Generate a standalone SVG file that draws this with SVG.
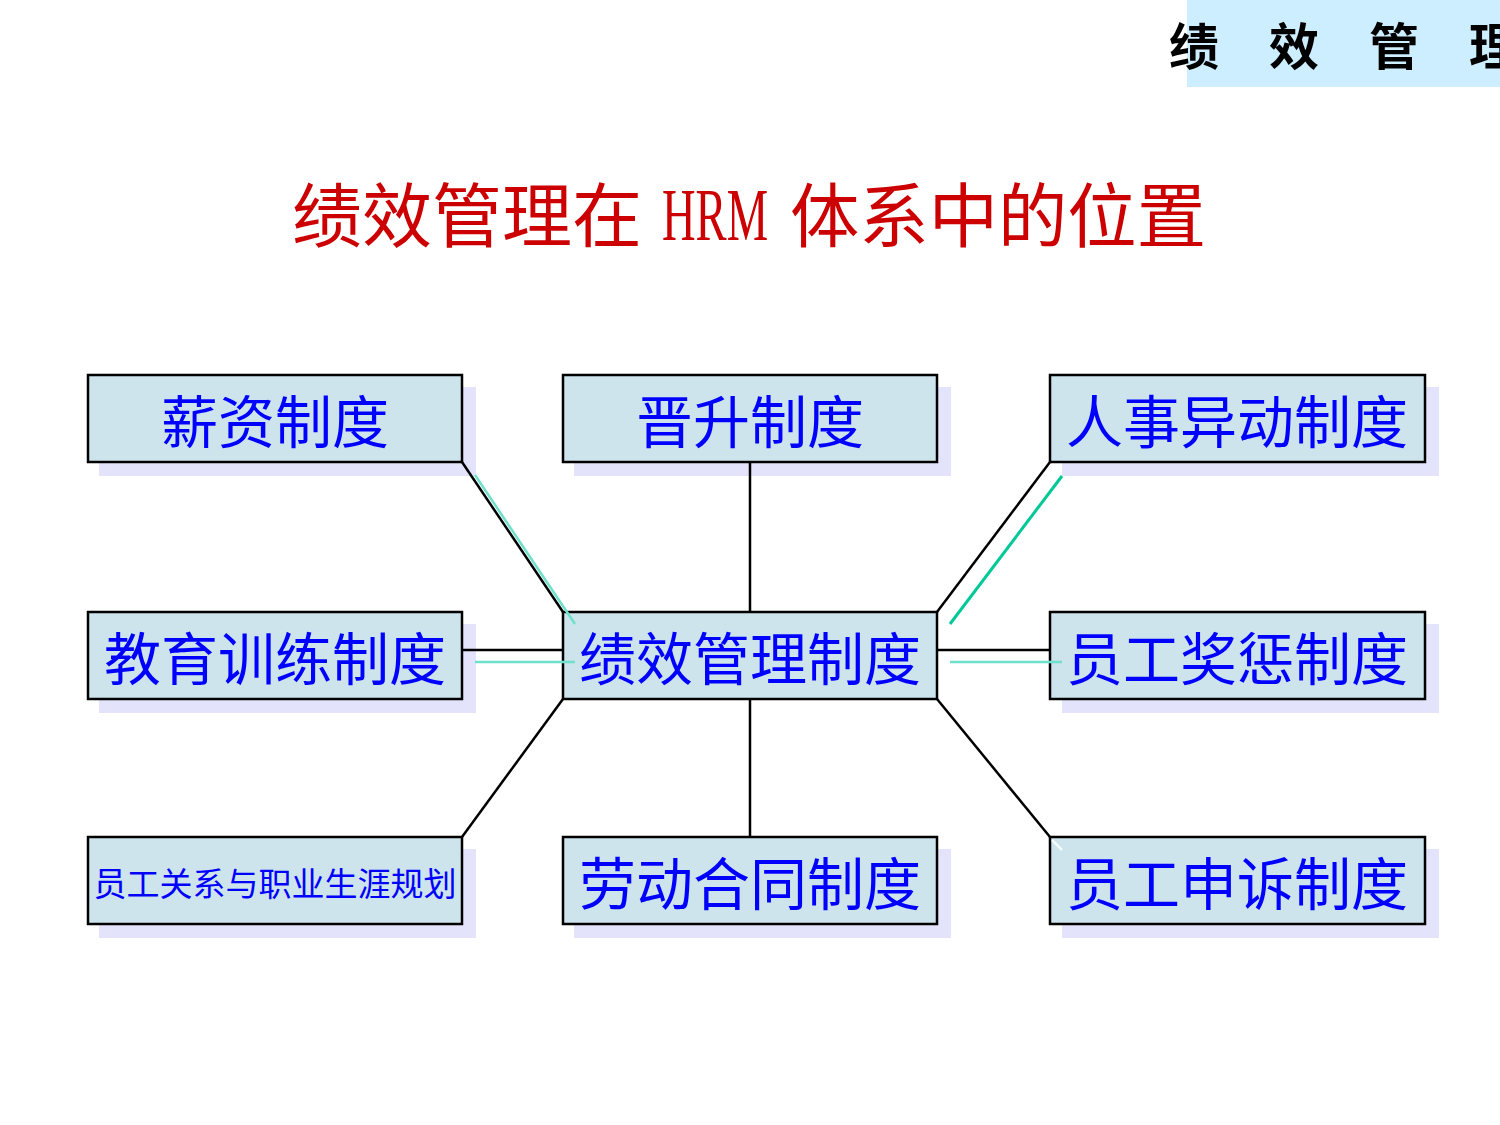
<svg xmlns="http://www.w3.org/2000/svg" width="1500" height="1125" viewBox="0 0 1500 1125">
<style>
.shadow{fill:#e3e3fc;}
.box{fill:#cde4ec;stroke:#000;stroke-width:2.5;}
.lbl{font-family:"Noto Sans CJK SC",sans-serif;font-size:57px;fill:#0000ff;text-anchor:middle;}
.small{font-size:33px;}
.conn{stroke:#000;stroke-width:2.5;fill:none;}
.hl{stroke:#6fe0cc;stroke-width:2.5;fill:none;}
.hl2{stroke:#00c896;stroke-width:3;fill:none;}
.hdr{font-family:"Noto Sans CJK SC",sans-serif;font-size:50px;font-weight:bold;fill:#000;}
.title{font-family:"Noto Sans CJK SC",sans-serif;font-size:70px;fill:#cc0000;}
</style>
<rect width="1500" height="1125" fill="#ffffff"/>
<g id="header">
<rect x="1187" y="0" width="313" height="87" fill="#cdeefe"/>
<text class="hdr" x="1169" y="65">绩</text>
<text class="hdr" x="1269" y="65">效</text>
<text class="hdr" x="1369" y="65">管</text>
<text class="hdr" x="1469" y="65">理</text>
</g>
<g id="title">
<text class="title" x="292" y="242" textLength="350" lengthAdjust="spacingAndGlyphs">绩效管理在</text>
<text x="662" y="240" font-family="Liberation Serif, serif" font-size="74" fill="#cc0000" textLength="106" lengthAdjust="spacingAndGlyphs">HRM</text>
<text class="title" x="790" y="242" textLength="416" lengthAdjust="spacingAndGlyphs">体系中的位置</text>
</g>
<g id="n1">
<rect class="shadow" x="99" y="387" width="377" height="89"/>
<rect class="box" x="88" y="375" width="374" height="87"/>
<text class="lbl" x="275" y="443">薪资制度</text>
</g>
<g id="n2">
<rect class="shadow" x="574" y="387" width="377" height="89"/>
<rect class="box" x="563" y="375" width="374" height="87"/>
<text class="lbl" x="750" y="443">晋升制度</text>
</g>
<g id="n3">
<rect class="shadow" x="1062" y="387" width="377" height="89"/>
<rect class="box" x="1050" y="375" width="375" height="87"/>
<text class="lbl" x="1237" y="443">人事异动制度</text>
</g>
<g id="n4">
<rect class="shadow" x="99" y="624" width="377" height="89"/>
<rect class="box" x="88" y="612" width="374" height="87"/>
<text class="lbl" x="275" y="680">教育训练制度</text>
</g>
<g id="center">
<rect class="box" x="563" y="612" width="374" height="87"/>
<text class="lbl" x="750" y="680">绩效管理制度</text>
</g>
<g id="n5">
<rect class="shadow" x="1062" y="624" width="377" height="89"/>
<rect class="box" x="1050" y="612" width="375" height="87"/>
<text class="lbl" x="1237" y="680">员工奖惩制度</text>
</g>
<g id="n6">
<rect class="shadow" x="99" y="849" width="377" height="89"/>
<rect class="box" x="88" y="837" width="374" height="87"/>
<text class="lbl small" x="275" y="896">员工关系与职业生涯规划</text>
</g>
<g id="n7">
<rect class="shadow" x="574" y="849" width="377" height="89"/>
<rect class="box" x="563" y="837" width="374" height="87"/>
<text class="lbl" x="750" y="905">劳动合同制度</text>
</g>
<g id="n8">
<rect class="shadow" x="1062" y="849" width="377" height="89"/>
<rect class="box" x="1050" y="837" width="375" height="87"/>
<text class="lbl" x="1237" y="905">员工申诉制度</text>
</g>
<g id="connectors">
<line class="conn" x1="462" y1="462" x2="563" y2="612"/>
<line class="hl" x1="475" y1="475" x2="575" y2="624"/>
<line class="conn" x1="750" y1="462" x2="750" y2="612"/>
<line class="conn" x1="1050" y1="462" x2="937" y2="612"/>
<line class="hl2" x1="1062" y1="476" x2="950" y2="624"/>
<line class="conn" x1="462" y1="650" x2="563" y2="650"/>
<line class="hl" x1="475" y1="662" x2="575" y2="662"/>
<line class="conn" x1="937" y1="650" x2="1050" y2="650"/>
<line class="hl" x1="950" y1="662" x2="1062" y2="662"/>
<line class="conn" x1="563" y1="699" x2="462" y2="837"/>
<line class="conn" x1="750" y1="699" x2="750" y2="837"/>
<line class="conn" x1="937" y1="699" x2="1050" y2="837"/>
<line x1="1052" y1="840" x2="1062" y2="850" stroke="#f4fbfd" stroke-width="2.5"/>
</g>
</svg>
